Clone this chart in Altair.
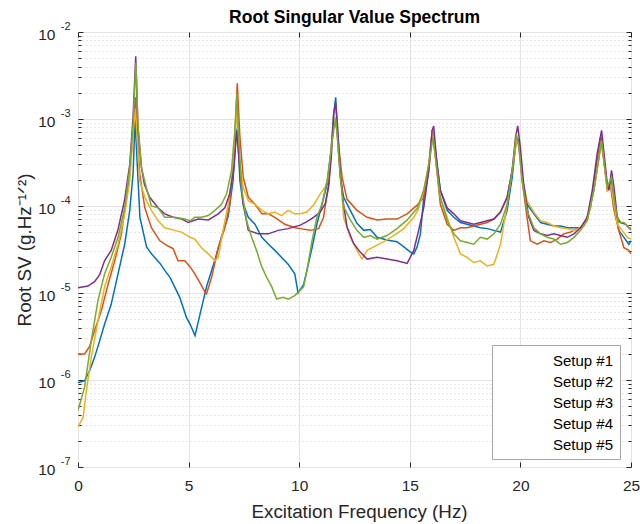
import altair as alt
import pandas as pd

series_names = ["Setup #1", "Setup #2", "Setup #3", "Setup #4", "Setup #5"]
series_colors = ["#0072BD", "#D95319", "#EDB120", "#7E2F8E", "#77AC30"]

# (frequency Hz, log10 of root SV)
setup1 = [(0.0,-6.03),(0.3,-6.01),(0.53,-5.89),(0.75,-5.74),(0.98,-5.55),(1.2,-5.36),(1.5,-5.13),(1.81,-4.78),(2.11,-4.44),(2.34,-4.05),(2.49,-3.63),(2.58,-3.0),(2.67,-3.48),(2.8,-4.13),(3.1,-4.47),(3.32,-4.55),(3.71,-4.66),(3.92,-4.74),(4.16,-4.82),(4.6,-5.05),(4.9,-5.28),(5.07,-5.36),(5.29,-5.49),(5.52,-5.24),(5.82,-4.92),(6.19,-4.62),(6.49,-4.35),(6.79,-4.12),(7.01,-3.71),(7.14,-3.21),(7.21,-3.10),(7.32,-3.71),(7.47,-3.98),(7.70,-4.13),(8.0,-4.21),(8.31,-4.36),(8.61,-4.44),(8.9,-4.51),(9.2,-4.59),(9.5,-4.67),(9.8,-4.78),(9.95,-5.0),(10.2,-4.90),(10.35,-4.74),(10.58,-4.48),(10.8,-4.21),(11.03,-3.98),(11.26,-3.75),(11.44,-3.36),(11.56,-2.94),(11.65,-2.75),(11.74,-3.25),(11.86,-3.67),(12.01,-3.90),(12.31,-4.05),(12.61,-4.20),(12.92,-4.28),(13.22,-4.27),(13.52,-4.36),(13.97,-4.39),(14.42,-4.41),(14.73,-4.47),(15.03,-4.53),(15.18,-4.55),(15.33,-4.47),(15.48,-4.32),(15.63,-3.90),(15.86,-3.52),(16.02,-3.13),(16.16,-3.36),(16.38,-3.82),(16.69,-4.05),(16.99,-4.13),(17.29,-4.19),(17.59,-4.21),(17.89,-4.23),(18.19,-4.25),(18.5,-4.26),(18.8,-4.28),(19.1,-4.30),(19.4,-4.05),(19.63,-3.67),(19.82,-3.21),(19.93,-3.25),(20.08,-3.67),(20.3,-3.98),(20.61,-4.09),(20.91,-4.19),(21.21,-4.21),(21.51,-4.23),(21.81,-4.23),(22.12,-4.25),(22.42,-4.25),(22.72,-4.25),(23.02,-4.15),(23.32,-3.82),(23.55,-3.44),(23.67,-3.21),(23.8,-3.52),(23.93,-3.78),(24.12,-3.71),(24.3,-4.09),(24.45,-4.28),(24.68,-4.36),(24.9,-4.44),(25.0,-4.40)]

setup2 = [(0.0,-5.70),(0.3,-5.70),(0.53,-5.61),(0.75,-5.43),(1.06,-5.20),(1.36,-4.90),(1.66,-4.63),(1.96,-4.32),(2.26,-3.79),(2.46,-3.25),(2.6,-2.75),(2.68,-3.17),(2.79,-3.63),(3.02,-4.02),(3.32,-4.25),(3.70,-4.40),(4.07,-4.46),(4.30,-4.49),(4.52,-4.63),(4.83,-4.63),(5.07,-4.70),(5.28,-4.78),(5.51,-4.88),(5.74,-4.99),(5.81,-5.01),(6.04,-4.82),(6.34,-4.48),(6.64,-4.25),(6.86,-3.98),(7.06,-3.40),(7.2,-2.59),(7.32,-3.21),(7.47,-3.67),(7.70,-3.90),(8.0,-3.98),(8.31,-4.09),(8.61,-4.09),(8.9,-4.13),(9.35,-4.21),(9.8,-4.25),(10.05,-4.26),(10.5,-4.28),(10.88,-4.26),(11.1,-4.13),(11.33,-3.75),(11.48,-3.25),(11.6,-2.98),(11.71,-3.13),(11.94,-3.67),(12.16,-3.92),(12.61,-4.05),(13.07,-4.13),(13.52,-4.16),(13.97,-4.15),(14.42,-4.15),(14.88,-4.09),(15.33,-3.99),(15.63,-3.90),(15.86,-3.59),(16.02,-3.13),(16.16,-3.44),(16.38,-3.98),(16.69,-4.21),(16.99,-4.28),(17.29,-4.25),(17.59,-4.25),(17.89,-4.23),(18.19,-4.21),(18.5,-4.19),(18.8,-4.15),(19.1,-4.07),(19.4,-3.90),(19.63,-3.59),(19.82,-3.25),(19.93,-3.29),(20.08,-3.71),(20.3,-4.13),(20.45,-4.40),(20.76,-4.44),(21.06,-4.40),(21.36,-4.42),(21.66,-4.38),(21.96,-4.32),(22.27,-4.30),(22.57,-4.26),(22.87,-4.23),(23.17,-4.02),(23.4,-3.59),(23.62,-3.21),(23.77,-3.48),(23.93,-3.82),(24.08,-3.78),(24.23,-4.05),(24.45,-4.28),(24.68,-4.48),(24.9,-4.51),(25.0,-4.55)]

setup3 = [(0.0,-6.54),(0.23,-6.43),(0.38,-6.12),(0.6,-5.74),(0.9,-5.32),(1.2,-4.93),(1.5,-4.70),(1.81,-4.44),(2.11,-4.09),(2.34,-3.71),(2.49,-3.17),(2.6,-2.88),(2.68,-3.25),(2.79,-3.71),(3.02,-3.90),(3.32,-4.05),(3.62,-4.17),(3.92,-4.25),(4.37,-4.28),(4.68,-4.30),(5.07,-4.36),(5.28,-4.38),(5.58,-4.48),(5.89,-4.55),(6.19,-4.63),(6.34,-4.59),(6.56,-4.28),(6.79,-3.98),(7.01,-3.59),(7.17,-2.85),(7.27,-3.40),(7.47,-3.79),(7.70,-3.94),(8.0,-3.98),(8.31,-4.05),(8.61,-4.09),(8.9,-4.07),(9.2,-4.11),(9.5,-4.05),(9.8,-4.09),(10.05,-4.09),(10.35,-4.07),(10.65,-3.99),(10.95,-3.86),(11.18,-3.78),(11.33,-3.67),(11.48,-3.25),(11.6,-2.98),(11.71,-3.13),(11.86,-3.63),(12.01,-4.13),(12.31,-4.36),(12.61,-4.51),(12.84,-4.61),(13.07,-4.51),(13.37,-4.47),(13.82,-4.41),(14.27,-4.34),(14.73,-4.26),(15.18,-4.13),(15.4,-4.03),(15.63,-3.82),(15.86,-3.52),(16.02,-3.12),(16.16,-3.44),(16.38,-3.90),(16.69,-4.13),(16.99,-4.36),(17.29,-4.55),(17.59,-4.59),(17.89,-4.65),(18.19,-4.63),(18.5,-4.69),(18.8,-4.67),(19.1,-4.44),(19.4,-3.98),(19.63,-3.59),(19.82,-3.25),(19.93,-3.29),(20.08,-3.67),(20.3,-3.94),(20.61,-4.07),(20.91,-4.17),(21.21,-4.19),(21.51,-4.23),(21.81,-4.25),(22.12,-4.26),(22.42,-4.28),(22.72,-4.25),(23.02,-4.17),(23.32,-3.82),(23.55,-3.44),(23.67,-3.25),(23.8,-3.52),(23.93,-3.82),(24.08,-3.75),(24.23,-3.98),(24.38,-4.21),(24.6,-4.28),(24.83,-4.36),(25.0,-4.38)]

setup4 = [(0.0,-4.94),(0.45,-4.92),(0.75,-4.87),(0.98,-4.79),(1.2,-4.63),(1.5,-4.51),(1.8,-4.28),(2.1,-3.94),(2.34,-3.52),(2.49,-2.98),(2.61,-2.28),(2.71,-3.10),(2.87,-3.56),(3.0,-3.75),(3.24,-3.90),(3.62,-4.02),(3.92,-4.09),(4.3,-4.13),(4.7,-4.15),(4.98,-4.19),(5.43,-4.15),(5.89,-4.16),(6.34,-4.09),(6.64,-4.02),(6.86,-3.86),(7.05,-3.56),(7.17,-3.13),(7.32,-3.59),(7.47,-3.98),(7.70,-4.28),(8.15,-4.32),(8.60,-4.32),(9.05,-4.28),(9.5,-4.26),(10.05,-4.22),(10.35,-4.18),(10.65,-4.13),(10.95,-4.07),(11.18,-3.97),(11.33,-3.78),(11.45,-3.44),(11.56,-2.94),(11.65,-2.81),(11.74,-3.10),(11.86,-3.63),(12.0,-3.97),(12.16,-4.24),(12.46,-4.43),(12.76,-4.53),(13.07,-4.61),(13.52,-4.59),(13.97,-4.61),(14.42,-4.63),(14.88,-4.66),(15.18,-4.51),(15.4,-4.28),(15.63,-4.02),(15.86,-3.59),(16.01,-3.13),(16.08,-3.08),(16.23,-3.52),(16.38,-3.82),(16.69,-4.02),(16.99,-4.09),(17.29,-4.17),(17.59,-4.19),(17.89,-4.21),(18.19,-4.19),(18.5,-4.17),(18.8,-4.15),(19.1,-4.07),(19.4,-3.90),(19.63,-3.59),(19.78,-3.21),(19.88,-3.08),(20.0,-3.33),(20.15,-3.75),(20.38,-4.13),(20.61,-4.28),(20.91,-4.32),(21.21,-4.34),(21.51,-4.32),(21.81,-4.34),(22.12,-4.36),(22.42,-4.32),(22.72,-4.25),(23.02,-4.13),(23.25,-3.82),(23.47,-3.40),(23.67,-3.13),(23.8,-3.44),(23.93,-3.75),(24.0,-3.82),(24.12,-3.59),(24.23,-3.78),(24.38,-4.13),(24.53,-4.19),(24.76,-4.21),(24.9,-4.25),(25.0,-4.26)]

setup5 = [(0.0,-6.35),(0.3,-6.08),(0.6,-5.55),(0.9,-5.09),(1.2,-4.78),(1.5,-4.59),(1.81,-4.36),(2.11,-4.02),(2.34,-3.56),(2.49,-3.06),(2.62,-2.35),(2.71,-3.06),(2.87,-3.56),(3.09,-3.79),(3.32,-4.0),(3.62,-4.02),(3.92,-4.13),(4.37,-4.13),(4.83,-4.15),(5.07,-4.17),(5.28,-4.13),(5.58,-4.13),(5.89,-4.11),(6.19,-4.05),(6.49,-3.98),(6.72,-3.86),(6.94,-3.59),(7.09,-3.13),(7.18,-2.71),(7.27,-3.21),(7.39,-3.79),(7.62,-4.17),(7.85,-4.36),(8.07,-4.51),(8.31,-4.70),(8.53,-4.82),(8.76,-4.93),(8.98,-5.07),(9.28,-5.05),(9.5,-5.07),(9.8,-5.03),(10.03,-4.97),(10.2,-4.93),(10.35,-4.74),(10.58,-4.40),(10.8,-4.13),(11.03,-3.98),(11.26,-3.71),(11.44,-3.36),(11.56,-3.13),(11.65,-3.0),(11.74,-3.25),(11.86,-3.67),(12.01,-4.01),(12.31,-4.16),(12.61,-4.28),(12.92,-4.36),(13.22,-4.34),(13.52,-4.38),(13.97,-4.34),(14.42,-4.26),(14.88,-4.16),(15.33,-4.03),(15.63,-3.82),(15.86,-3.52),(16.05,-3.21),(16.16,-3.44),(16.38,-3.90),(16.69,-4.17),(16.99,-4.32),(17.29,-4.40),(17.59,-4.42),(17.89,-4.44),(18.19,-4.36),(18.5,-4.38),(18.8,-4.32),(19.1,-4.21),(19.4,-3.98),(19.63,-3.59),(19.82,-3.17),(19.93,-3.33),(20.08,-3.71),(20.3,-4.05),(20.61,-4.25),(20.91,-4.32),(21.21,-4.36),(21.51,-4.38),(21.81,-4.44),(22.12,-4.42),(22.42,-4.36),(22.72,-4.28),(23.02,-4.17),(23.32,-3.82),(23.55,-3.44),(23.67,-3.25),(23.8,-3.52),(23.93,-3.78),(24.12,-3.67),(24.3,-4.02),(24.45,-4.19),(24.68,-4.19),(24.9,-4.25),(25.0,-4.28)]

x_ticks = [0, 5, 10, 15, 20, 25]
y_major = [1e-7, 1e-6, 1e-5, 1e-4, 1e-3, 1e-2]
y_minor = [m * d for d in [1e-7, 1e-6, 1e-5, 1e-4, 1e-3] for m in range(2, 10)]

rows = []
for name, pts in zip(series_names, [setup1, setup2, setup3, setup4, setup5]):
    for f, lg in pts:
        rows.append({"series": name, "freq": f, "value": 10 ** lg})
df = pd.DataFrame(rows)

W, H = 553, 435
FONT = "Liberation Sans"
TXT = "#262626"

xscale = alt.Scale(domain=[0, 25], nice=False, zero=False)
yscale = alt.Scale(type="log", domain=[1e-7, 1e-2], nice=False)

exp_expr = "'-' + format(round(-log(datum.value)/LN10), 'd')"

lines = alt.Chart(df).mark_line(strokeWidth=1.5, clip=True).encode(
    x=alt.X("freq:Q", scale=xscale,
            axis=alt.Axis(values=x_ticks, title="Excitation Frequency (Hz)", grid=True,
                          gridColor="#e3e3e3", gridWidth=1, ticks=False, domain=False,
                          labelFontSize=15.5, labelPadding=11, labelFlush=False, labelOverlap=False,
                          titleFontSize=18.8, titleFontWeight="normal", titleY=50, titleX=281,
                          titleAlign="center", titleAnchor="start",
                          titleBaseline="alphabetic", labelColor=TXT, titleColor=TXT,
                          labelFont=FONT, titleFont=FONT)),
    y=alt.Y("value:Q", scale=yscale,
            axis=alt.Axis(values=y_major, labelExpr="'10'", title="Root SV (g.Hz\u207b\u00b9\u141f\u00b2)",
                          grid=True, gridColor="#e3e3e3", gridWidth=1, ticks=False, domain=False,
                          labelFontSize=15.5, labelPadding=23, labelOffset=2, labelFlush=False,
                          labelOverlap=False, labelBaseline="middle",
                          titleFontSize=18.8, titleFontWeight="normal", titleX=-54,
                          titleBaseline="middle", labelColor=TXT, titleColor=TXT,
                          labelFont=FONT, titleFont=FONT, orient="left")),
    color=alt.Color("series:N", scale=alt.Scale(domain=series_names, range=series_colors),
                    legend=alt.Legend(title=None, orient="none", legendX=414, legendY=313,
                                      fillColor="white", strokeColor="#a6a6a6", padding=6,
                                      symbolType="stroke", symbolSize=400, symbolOpacity=0,
                                      symbolStrokeWidth=0, labelOffset=35, labelFontSize=15,
                                      labelFont=FONT, labelColor="black", rowPadding=2.9)),
)

def ghost(xaxis, yaxis):
    return alt.Chart(df).mark_line(opacity=0).encode(
        x=alt.X("freq:Q", scale=xscale, axis=xaxis),
        y=alt.Y("value:Q", scale=yscale, axis=yaxis),
    )

minor_grid = ghost(None, alt.Axis(values=y_minor, grid=True, gridColor="#d0d0d0", gridDash=[1, 3],
                                  labels=False, ticks=False, domain=False, title=None, orient="left"))

exponents = ghost(None, alt.Axis(values=y_major, labelExpr=exp_expr, labelFontSize=11, labelFont=FONT,
                                 labelColor=TXT, labelPadding=8, labelOffset=-6, labelBaseline="middle",
                                 labelFlush=False, labelOverlap=False, ticks=False, domain=False,
                                 grid=False, title=None, orient="left"))

tick_common = dict(labels=False, domain=False, grid=False, title=None, tickColor=TXT, ticks=True)
ticks_a = ghost(alt.Axis(values=x_ticks, orient="top", offset=-H, tickSize=5, **tick_common),
                alt.Axis(values=y_major, orient="right", offset=-W, tickSize=5, **tick_common))
ticks_b = ghost(alt.Axis(values=x_ticks, orient="bottom", offset=-H, tickSize=5, **tick_common),
                alt.Axis(values=y_major, orient="left", offset=-W, tickSize=5, **tick_common))
ticks_c = ghost(None, alt.Axis(values=y_minor, orient="right", offset=-W, tickSize=3, **tick_common))
ticks_d = ghost(None, alt.Axis(values=y_minor, orient="left", offset=-W, tickSize=3, **tick_common))

chart = alt.layer(minor_grid, lines, exponents, ticks_a, ticks_b, ticks_c, ticks_d).resolve_axis(
    x="independent", y="independent"
).properties(
    width=W, height=H,
    title=alt.TitleParams("Root Singular Value Spectrum", fontSize=17.5, fontWeight="bold",
                          font=FONT, color="black", anchor="middle", baseline="alphabetic",
                          offset=0, dy=20),
    autosize=alt.AutoSizeParams(type="none"),
    padding={"left": 78, "top": 32, "right": 9, "bottom": 57},
).configure_view(stroke=TXT, strokeWidth=1).configure(background="white")

chart.save("out.html", embed_options={"renderer": "svg", "actions": False})
